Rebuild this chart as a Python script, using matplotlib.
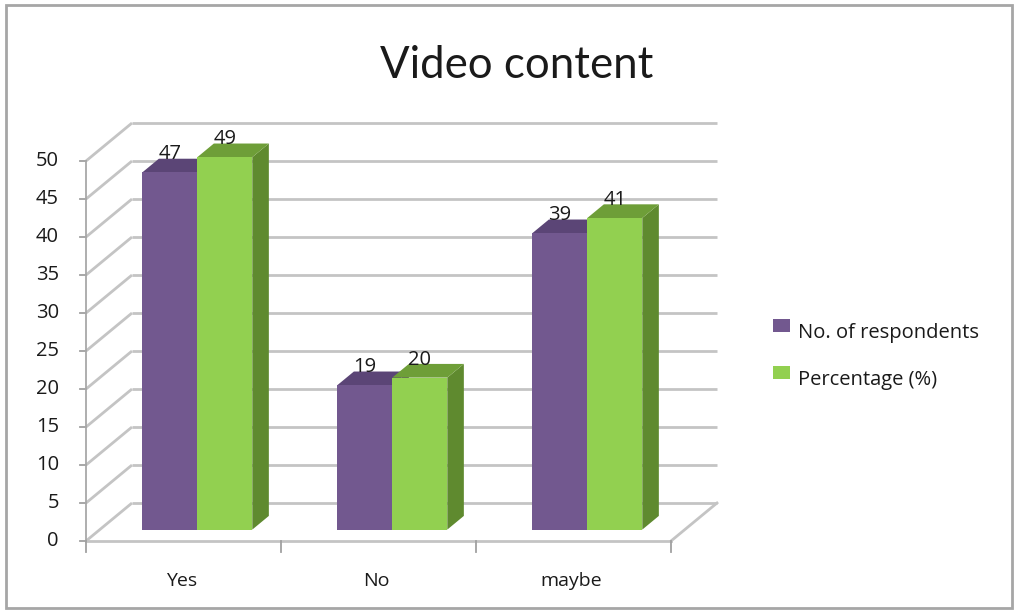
import matplotlib
matplotlib.use("Agg")
import matplotlib.pyplot as plt
from matplotlib.patches import Polygon, Rectangle

# ---- data ----
categories = ["Yes", "No", "maybe"]
respondents = [47, 19, 39]
percentage = [49, 20, 41]
series_names = ["No. of respondents", "Percentage (%)"]
y_ticks = [0, 5, 10, 15, 20, 25, 30, 35, 40, 45, 50]
title = "Video content"

# ---- styling ----
TITLE_FONT = "Lato"
FONT = "Open Sans"
front_cols = ["#72588F", "#92D050"]
top_cols = ["#5B4576", "#6E9E38"]
side_cols = ["#5A4573", "#5F8A2F"]
grid_col = "#C4C4C4"
text_col = "#1a1a1a"

W, H = 1018, 610
fig = plt.figure(figsize=(W / 100, H / 100), dpi=100)
ax = fig.add_axes([0, 0, 1, 1])
ax.axis("off")

# plot box in pixels (front floor edge and value scale)
X0, X1 = 86, 671
Y0, YTOP = 541, 161
n = len(categories)
ymax = y_ticks[-1]
ppc = (X1 - X0) / n           # pixels per category
ppv = (Y0 - YTOP) / ymax      # pixels per unit value
ax.set_xlim(-X0 / ppc, (W - X0) / ppc)
ax.set_ylim((Y0 - H) / ppv, Y0 / ppv)

# oblique depth vector (data units)
DX, DY = 46 / ppc, 38 / ppv
F_FRONT, F_DEPTH = 0.30, 0.36
BW = 0.282

glw = 2.0
# side wall + back wall gridlines
for t in y_ticks:
    ax.plot([0, DX], [t, t + DY], color=grid_col, lw=glw, zorder=1, solid_capstyle="butt")
    ax.plot([DX, n + DX], [t + DY, t + DY], color=grid_col, lw=glw, zorder=1, solid_capstyle="butt")
    ax.plot([-6 / ppc, 0], [t, t], color="#A0A0A0", lw=1.3, zorder=2)
    ax.text(-27 / ppc, t, str(t), ha="right", va="center", fontsize=14.5,
            family=FONT, color=text_col)
# floor
ax.plot([0, n], [0, 0], color=grid_col, lw=glw, zorder=1)
ax.plot([n, n + DX], [0, DY], color=grid_col, lw=glw, zorder=1)
# value axis
ax.plot([0, 0], [0, ymax], color="#A8A8A8", lw=1.3, zorder=2)
# category ticks
for k in range(n + 1):
    ax.plot([k, k], [0, -11 / ppv], color="#A0A0A0", lw=1.3, zorder=2)
for i, c in enumerate(categories):
    ax.text(i + 0.49, -40 / ppv, c, ha="center", va="center", fontsize=14,
            family=FONT, color=text_col)

# bars
series = [respondents, percentage]
z = 3
for i in range(n):
    for s, vals in enumerate(series):
        v = vals[i]
        x = i + 0.5 - BW + s * BW + F_FRONT * DX
        y = F_FRONT * DY
        ddx, ddy = F_DEPTH * DX, F_DEPTH * DY
        side = [(x + BW, y), (x + BW + ddx, y + ddy), (x + BW + ddx, y + v + ddy), (x + BW, y + v)]
        top = [(x, y + v), (x + BW, y + v), (x + BW + ddx, y + v + ddy), (x + ddx, y + v + ddy)]
        front = [(x, y), (x + BW, y), (x + BW, y + v), (x, y + v)]
        ax.add_patch(Polygon(side, closed=True, fc=side_cols[s], ec="none", zorder=z))
        ax.add_patch(Polygon(top, closed=True, fc=top_cols[s], ec="none", zorder=z))
        ax.add_patch(Polygon(front, closed=True, fc=front_cols[s], ec="none", zorder=z + 0.5))
        z += 1
        ax.text(x + BW / 2, y + v + ddy - 0.1, str(v), ha="center", va="baseline",
                fontsize=14.5, family=FONT, color=text_col, zorder=20)

# title
fig.text(517 / W, 1 - 66 / H, title, ha="center", va="center", fontsize=31.5,
         family=TITLE_FONT, color=text_col)

# legend
for s, name in enumerate(series_names):
    cy = 333 + s * 47
    fig.patches.append(Rectangle((773 / W, 1 - (cy - 1) / H), 17 / W, 13 / H,
                                 transform=fig.transFigure, fc=front_cols[s], ec="none"))
    fig.text(798 / W, 1 - cy / H, name, ha="left", va="center", fontsize=14.5,
             family=FONT, color=text_col)

# chart border
fig.patches.append(Rectangle((6 / W, 1 - 608 / H), 1006 / W, 603 / H,
                             transform=fig.transFigure, fc="none", ec="#A6A6A6", lw=2))

fig.savefig("out.png", dpi=100)
